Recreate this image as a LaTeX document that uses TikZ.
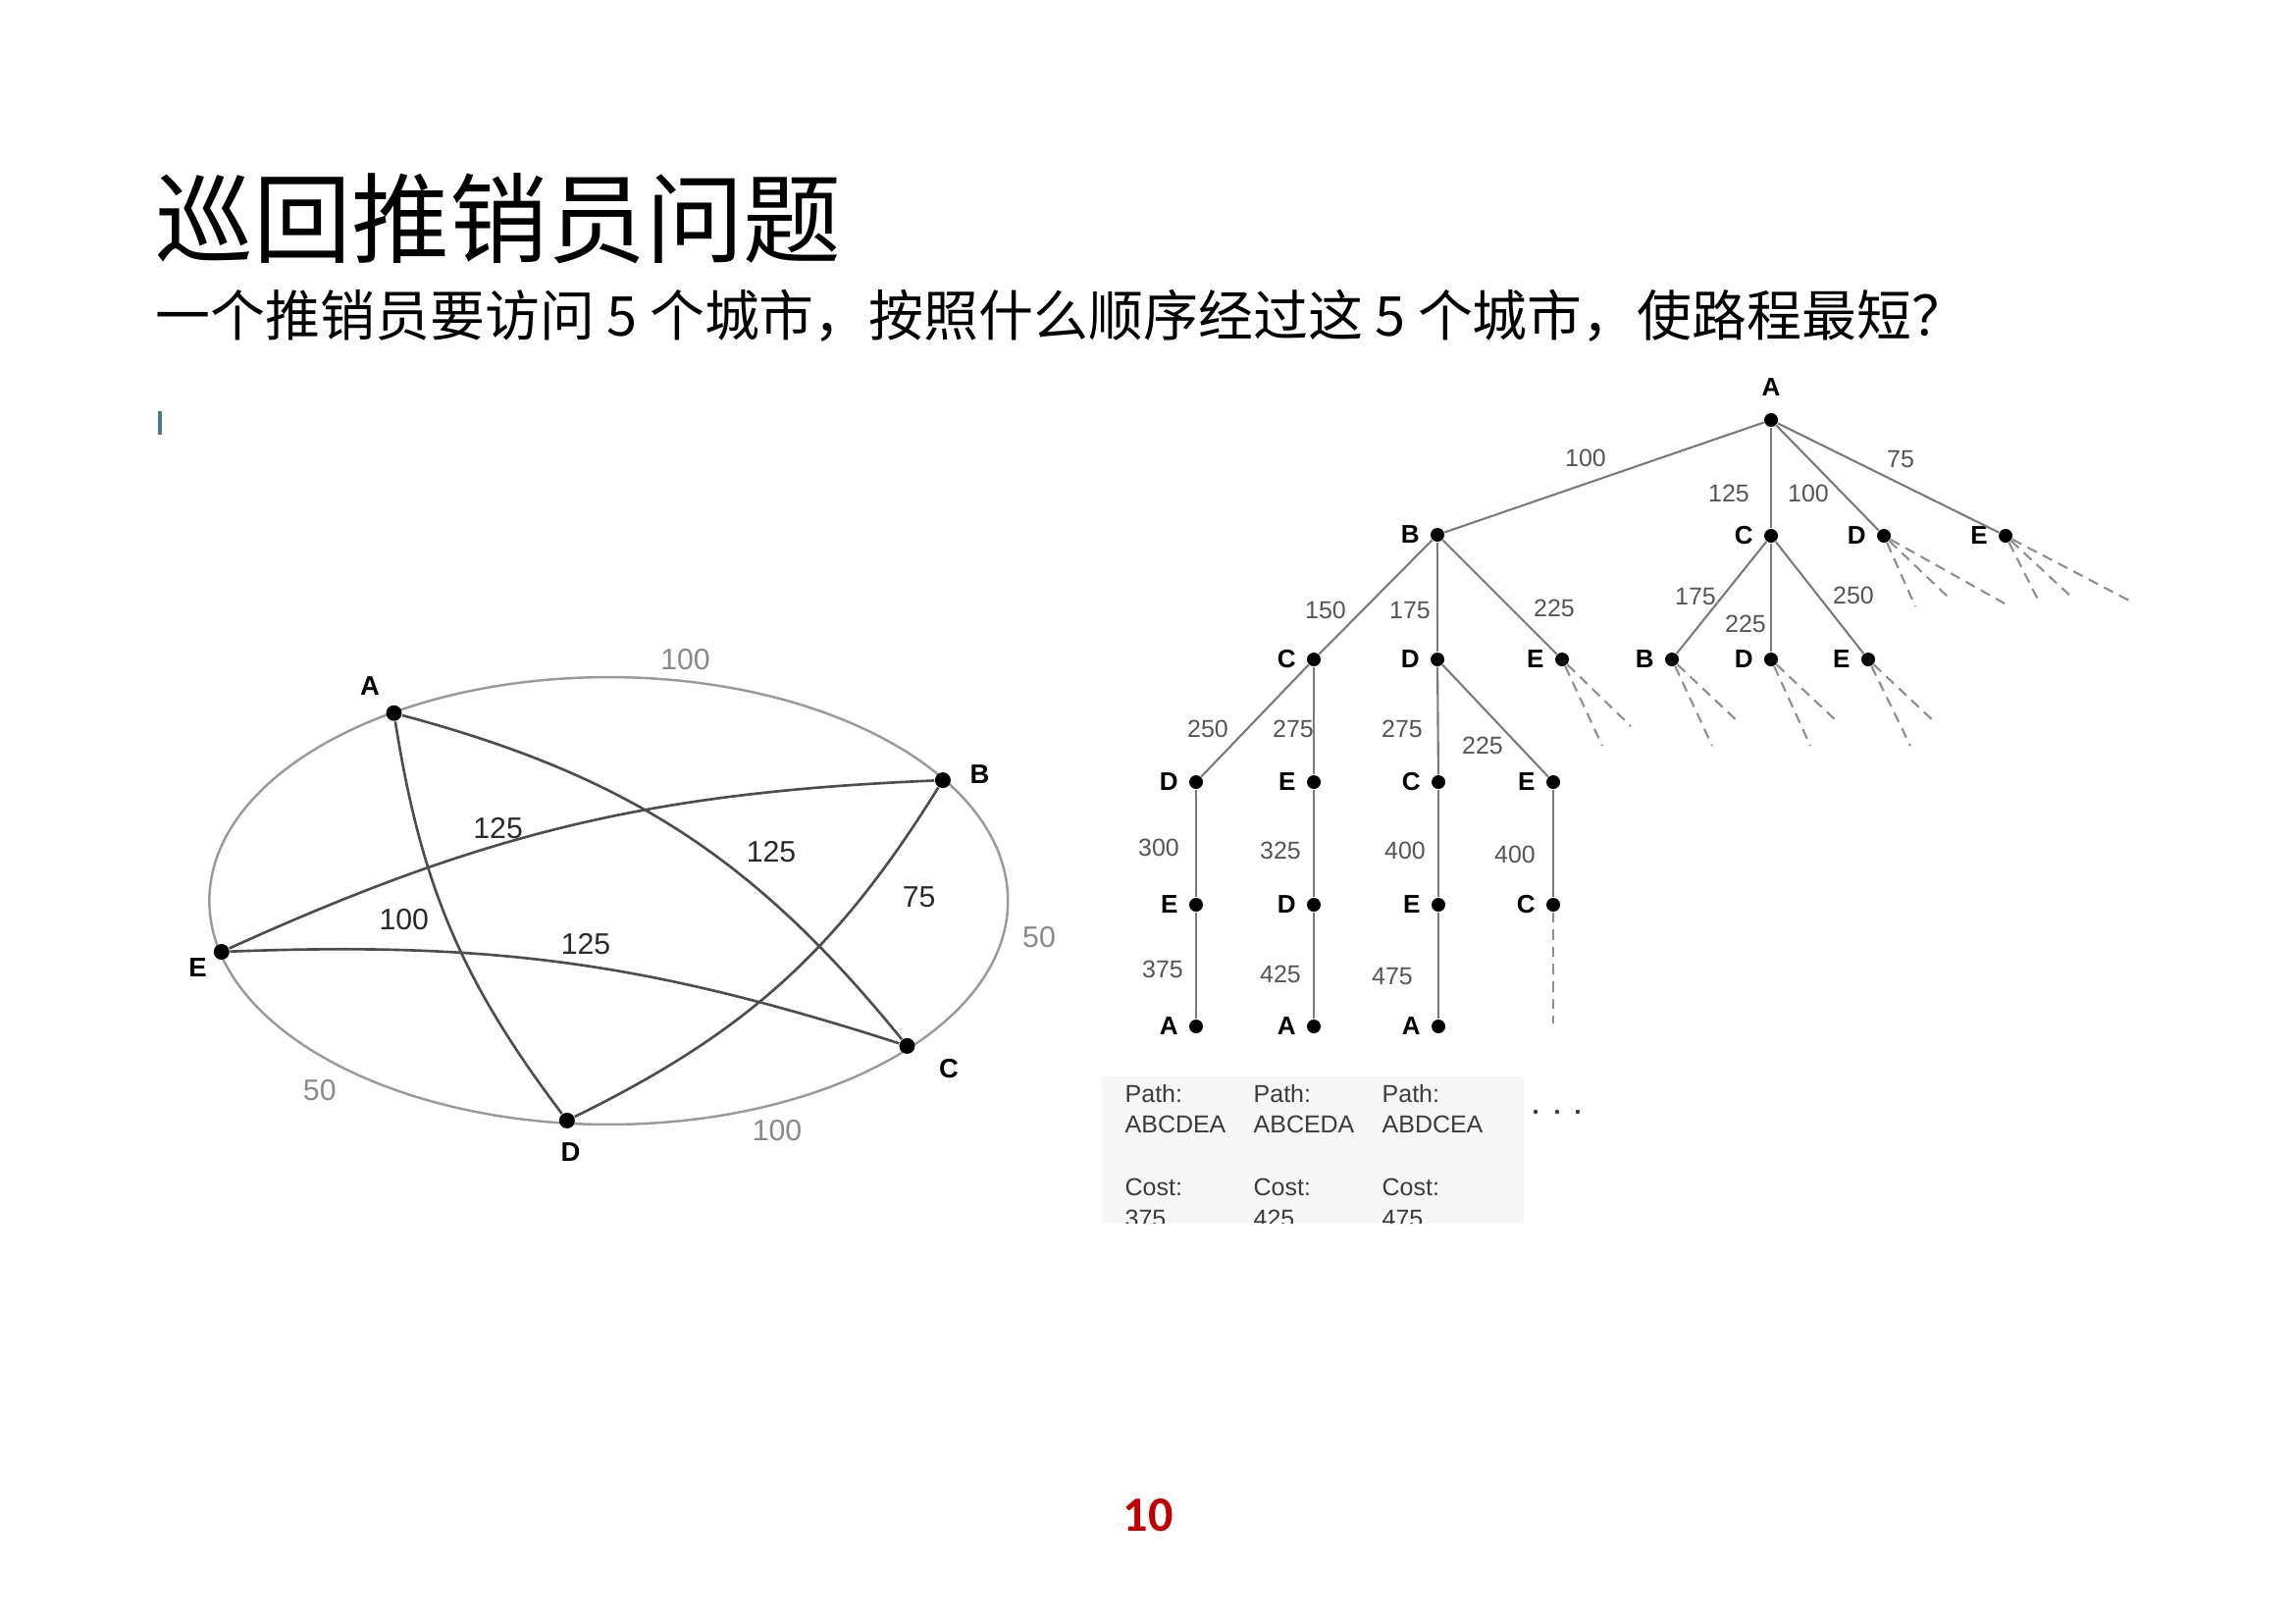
\documentclass[tikz,border=0pt]{standalone}
\usepackage{fontspec}
\setmainfont{Liberation Sans}
\newfontfamily\cjkfont{Noto Sans CJK SC}
\newfontfamily\pgnumfont{Carlito}
\definecolor{ellgray}{HTML}{9A9A9A}
\definecolor{chordgray}{HTML}{4D4D4D}
\definecolor{outerlbl}{HTML}{8A8A8A}
\definecolor{innerlbl}{HTML}{2A2A2A}
\definecolor{treeline}{HTML}{7A7A7A}
\definecolor{treelbl}{HTML}{555555}
\definecolor{pathtxt}{HTML}{3C3C3C}
\definecolor{pagered}{HTML}{C00000}
\definecolor{markblue}{HTML}{4A7A9A}
\begin{document}
\begin{tikzpicture}[x=0.01cm,y=-0.01cm,
  gdot/.style={circle,fill=black,inner sep=0pt,minimum size=0.16cm},
  tdot/.style={circle,fill=black,inner sep=0pt,minimum size=0.14cm},
  glet/.style={font=\fontsize{7.8}{8}\selectfont\bfseries,text=black,inner sep=0pt},
  gin/.style={font=\fontsize{8.6}{9}\selectfont,text=innerlbl,inner sep=0pt},
  gout/.style={font=\fontsize{8.6}{9}\selectfont,text=outerlbl,inner sep=0pt},
  chord/.style={draw=chordgray,line width=0.75pt},
  tlet/.style={font=\fontsize{7.4}{8}\selectfont\bfseries,text=black,inner sep=0pt},
  tl/.style={label={[tlet,label distance=0.1cm]left:#1}},
  tnum/.style={font=\fontsize{7.1}{8}\selectfont,text=treelbl,inner sep=0pt},
  tedge/.style={draw=treeline,line width=0.6pt},
  tdash/.style={draw=treeline!85,line width=0.6pt,dash pattern=on 3pt off 2pt},
  ptxt/.style={font=\fontsize{7.1}{8}\selectfont,text=pathtxt,inner sep=0pt,anchor=base west},
]
\useasboundingbox (0,0) rectangle (2339,1654);
\fill[white] (0,0) rectangle (2339,1654);

% title and question
\node[anchor=west,inner sep=0pt,font=\cjkfont\fontsize{28.4}{30}\selectfont] (title) at (158,223) {巡回推销员问题};
\node[anchor=west,inner sep=0pt,font=\cjkfont\fontsize{15.9}{17}\selectfont] (sub) at (158,322) {一个推销员要访问 5 个城市，按照什么顺序经过这 5 个城市，使路程最短？};

% small blue mark
\fill[markblue] (160.7,419) rectangle (165,443);

% ---------------- left graph ----------------
\draw[ellgray,line width=0.7pt] (620.3,918) ellipse [x radius=4.067cm, y radius=2.278cm];
\node[gdot] (gA) at (401.5,726.7) {};
\node[gdot] (gB) at (960.9,795.1) {};
\node[gdot] (gC) at (924.5,1065.9) {};
\node[gdot] (gD) at (577.9,1141.9) {};
\node[gdot] (gE) at (225.8,970) {};
\draw[chord] (gA) to[bend right=14] (gD);
\draw[chord] (gE) to[bend left=11] (gB);
\draw[chord] (gE) to[bend left=10] (gC);
\draw[chord] (gA) to[bend left=18] (gC);
\draw[chord] (gB) to[bend left=16] (gD);
\node[glet] (lA) at (377,699) {A};
\node[glet] (lB) at (998.5,789) {B};
\node[glet] (lC) at (967,1089) {C};
\node[glet] (lD) at (581.5,1174) {D};
\node[glet] (lE) at (201.5,986) {E};
\node[gout] (o1) at (698.5,672) {100};
\node[gout] (o2) at (1059,955) {50};
\node[gout] (o3) at (792,1152.5) {100};
\node[gout] (o4) at (325.8,1110.7) {50};
\node[gin] (i1) at (507.6,844) {125};
\node[gin] (i2) at (786,868) {125};
\node[gin] (i3) at (936.7,914.5) {75};
\node[gin] (i4) at (411.8,936.6) {100};
\node[gin] (i5) at (597,962.4) {125};

% ---------------- search tree ----------------
\node[tdot,label={[tlet,label distance=0.16cm]above:A}] (r) at (1805,428) {};
\node[tdot,tl=B] (b1) at (1465,545) {};
\node[tdot,tl=C] (c1) at (1805,546) {};
\node[tdot,tl=D] (d1) at (1920,546) {};
\node[tdot,tl=E] (e1) at (2044,546) {};
\node[tdot,tl=C] (b1c) at (1339,672) {};
\node[tdot,tl=D] (b1d) at (1465,672) {};
\node[tdot,tl=E] (b1e) at (1592,672) {};
\node[tdot,tl=B] (c1b) at (1704,672) {};
\node[tdot,tl=D] (c1d) at (1805,672) {};
\node[tdot,tl=E] (c1e) at (1904,672) {};
\node[tdot,tl=D] (l3a) at (1219,797) {};
\node[tdot,tl=E] (l3b) at (1339,797) {};
\node[tdot,tl=C] (l3c) at (1466,797) {};
\node[tdot,tl=E] (l3d) at (1583,797) {};
\node[tdot,tl=E] (l4a) at (1219,922) {};
\node[tdot,tl=D] (l4b) at (1339,922) {};
\node[tdot,tl=E] (l4c) at (1466,922) {};
\node[tdot,tl=C] (l4d) at (1583,922) {};
\node[tdot,tl=A] (l5a) at (1219,1046) {};
\node[tdot,tl=A] (l5b) at (1339,1046) {};
\node[tdot,tl=A] (l5c) at (1466,1046) {};

\draw[tedge] (r) -- (b1);
\draw[tedge] (r) -- (c1);
\draw[tedge] (r) -- (d1);
\draw[tedge] (r) -- (e1);
\draw[tedge] (b1) -- (b1c);
\draw[tedge] (b1) -- (b1d);
\draw[tedge] (b1) -- (b1e);
\draw[tedge] (c1) -- (c1b);
\draw[tedge] (c1) -- (c1d);
\draw[tedge] (c1) -- (c1e);
\draw[tedge] (b1c) -- (l3a);
\draw[tedge] (b1c) -- (l3b);
\draw[tedge] (b1d) -- (l3c);
\draw[tedge] (b1d) -- (l3d);
\draw[tedge] (l3a) -- (l4a);
\draw[tedge] (l3b) -- (l4b);
\draw[tedge] (l3c) -- (l4c);
\draw[tedge] (l3d) -- (l4d);
\draw[tedge] (l4a) -- (l5a);
\draw[tedge] (l4b) -- (l5b);
\draw[tedge] (l4c) -- (l5c);

% dashed continuations
\coordinate (dd1) at (1952,618);
\coordinate (dd2) at (1987,610);
\coordinate (dd3) at (2043,615);
\coordinate (ed1) at (2079,615);
\coordinate (ed2) at (2113,610);
\coordinate (ed3) at (2170,612);
\coordinate (be1) at (1633,760);
\coordinate (be2) at (1662,740);
\coordinate (cb1) at (1745,760);
\coordinate (cb2) at (1773,737);
\coordinate (cd1) at (1845,760);
\coordinate (cd2) at (1872,735);
\coordinate (ce1) at (1947,760);
\coordinate (ce2) at (1973,737);
\coordinate (cc1) at (1583,1043);
\draw[tdash] (d1) -- (dd1);
\draw[tdash] (d1) -- (dd2);
\draw[tdash] (d1) -- (dd3);
\draw[tdash] (e1) -- (ed1);
\draw[tdash] (e1) -- (ed2);
\draw[tdash] (e1) -- (ed3);
\draw[tdash] (b1e) -- (be1);
\draw[tdash] (b1e) -- (be2);
\draw[tdash] (c1b) -- (cb1);
\draw[tdash] (c1b) -- (cb2);
\draw[tdash] (c1d) -- (cd1);
\draw[tdash] (c1d) -- (cd2);
\draw[tdash] (c1e) -- (ce1);
\draw[tdash] (c1e) -- (ce2);
\draw[tdash] (l4d) -- (cc1);

% edge cost labels
\node[tnum] (n1) at (1616,467) {100};
\node[tnum] (n2) at (1762,503) {125};
\node[tnum] (n3) at (1843,503) {100};
\node[tnum] (n4) at (1937,468) {75};
\node[tnum] (n5) at (1351,622) {150};
\node[tnum] (n6) at (1437,622) {175};
\node[tnum] (n7) at (1584,620) {225};
\node[tnum] (n8) at (1728,608) {175};
\node[tnum] (n9) at (1779,636) {225};
\node[tnum] (n10) at (1889,607) {250};
\node[tnum] (n11) at (1231,743) {250};
\node[tnum] (n12) at (1318,743) {275};
\node[tnum] (n13) at (1429,743) {275};
\node[tnum] (n14) at (1511,760) {225};
\node[tnum] (n15) at (1181,864) {300};
\node[tnum] (n16) at (1305,867) {325};
\node[tnum] (n17) at (1432,867) {400};
\node[tnum] (n18) at (1544,871) {400};
\node[tnum] (n19) at (1185,988) {375};
\node[tnum] (n20) at (1305,993) {425};
\node[tnum] (n21) at (1419,995) {475};

% path / cost block
\fill[gray!6] (1123,1097) rectangle (1553,1246);
\begin{scope}
\clip (1100,1080) rectangle (1700,1246);
\node[ptxt] (p1) at (1146,1123) {Path:};
\node[ptxt] (p2) at (1277,1123) {Path:};
\node[ptxt] (p3) at (1408,1123) {Path:};
\node[ptxt] (q1) at (1146,1154) {ABCDEA};
\node[ptxt] (q2) at (1277,1154) {ABCEDA};
\node[ptxt] (q3) at (1408,1154) {ABDCEA};
\node[ptxt] (s1) at (1146,1218) {Cost:};
\node[ptxt] (s2) at (1277,1218) {Cost:};
\node[ptxt] (s3) at (1408,1218) {Cost:};
\node[ptxt] (t1) at (1146,1250) {375};
\node[ptxt] (t2) at (1277,1250) {425};
\node[ptxt] (t3) at (1408,1250) {475};
\end{scope}
\fill[pathtxt] (1565,1133) circle (2.2);
\fill[pathtxt] (1587,1133) circle (2.2);
\fill[pathtxt] (1608,1133) circle (2.2);

% page number
\node[font=\pgnumfont\bfseries\fontsize{14.3}{15}\selectfont,text=pagered,inner sep=0pt] (pg) at (1170,1544) {10};
\end{tikzpicture}
\end{document}
